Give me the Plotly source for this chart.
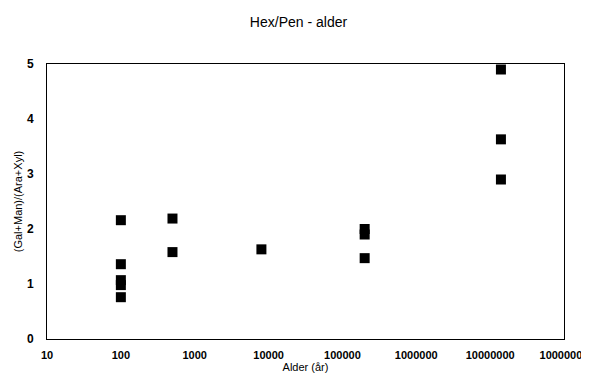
import plotly.graph_objects as go

ages = [100, 100, 100, 100, 100, 500, 500, 8000, 200000, 200000, 200000, 14000000, 14000000, 14000000]
ratio = [2.16, 1.36, 1.07, 0.98, 0.76, 2.19, 1.58, 1.63, 2.0, 1.9, 1.47, 4.9, 3.63, 2.9]

x_tickvals = [10, 100, 1000, 10000, 100000, 1000000, 10000000, 100000000]
x_ticktext = ["10", "100", "1000", "10000", "100000", "1000000", "10000000", "10000000"]
y_tickvals = [0, 1, 2, 3, 4, 5]

fig = go.Figure()
fig.add_trace(go.Scatter(
    x=ages, y=ratio, mode="markers",
    marker=dict(symbol="square", size=10, color="black"),
    showlegend=False,
))

fig.update_layout(
    width=581, height=371,
    margin=dict(l=39, r=25, t=56, b=40, autoexpand=False),
    paper_bgcolor="white", plot_bgcolor="white",
    font=dict(family="Liberation Sans, Arial, sans-serif", color="black"),
    title=dict(text="Hex/Pen - alder", x=0.5, xanchor="center", y=0.962, yanchor="middle",
               font=dict(size=14, color="black")),
    xaxis=dict(
        type="log", range=[1, 8.0001], automargin=False,
        tickvals=x_tickvals, ticktext=x_ticktext,
        tickfont=dict(size=11, weight="bold"),
        ticklabeloverflow="allow",
        showgrid=False, zeroline=False,
        showline=True, linecolor="black", linewidth=1, mirror=True,
        ticks="", ticklen=0, ticklabelstandoff=6,
        title=dict(text="Alder (år)", font=dict(size=11), standoff=0),
    ),
    yaxis=dict(
        range=[0, 5], tickvals=y_tickvals, automargin=False,
        tickfont=dict(size=12, weight="bold"),
        showgrid=False, zeroline=False,
        showline=True, linecolor="black", linewidth=1, mirror=True,
        ticks="", ticklen=0, ticklabelstandoff=10,
        title=dict(text="(Gal+Man)/(Ara+Xyl)", font=dict(size=11), standoff=2),
    ),
)

fig.write_html("out.html")
